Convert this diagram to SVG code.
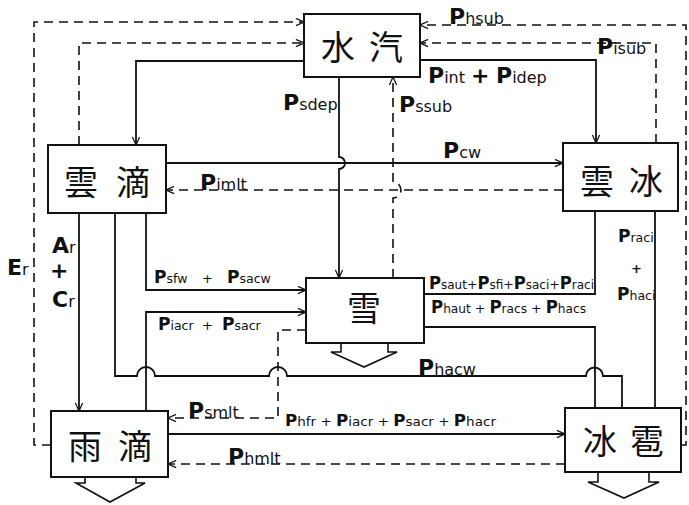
<svg xmlns="http://www.w3.org/2000/svg" width="689" height="505" viewBox="0 0 689 505">
<defs>
<marker id="ah" viewBox="0 0 10 10" refX="10" refY="5" markerWidth="9" markerHeight="9" markerUnits="userSpaceOnUse" orient="auto">
<path d="M1,1 L10,5 L1,9" fill="none" stroke="#111" stroke-width="1.4"/>
</marker>
<style>
.box{fill:#fff;stroke:#111;stroke-width:2}
.cjk{font-family:"Noto Sans CJK JP","Noto Sans CJK SC",sans-serif;font-size:34px;fill:#111;text-anchor:middle;dominant-baseline:central}
.ln{fill:none;stroke:#111;stroke-width:1.8}
.dl{fill:none;stroke:#111;stroke-width:1.6;stroke-dasharray:9 6}
.out{fill:none;stroke:#111;stroke-width:1.6;stroke-linejoin:miter}
.lb{font-family:"DejaVu Sans",sans-serif;fill:#111}
.P{font-size:22px;font-weight:bold}
.s{font-size:16px}
.Pm{font-size:17px;font-weight:bold}
.sm{font-size:12.5px}
.pm{font-size:13px}
.Ps{font-size:16px;font-weight:bold}
.ss{font-size:13px}
</style>
</defs>
<rect width="689" height="505" fill="#fff"/>

<g id="connectors">
<path class="ln" d="M304,61 H136 V145" marker-end="url(#ah)"/>
<path class="ln" d="M339,77 V157 A6,6 0 0 1 339,169 V278" marker-end="url(#ah)"/>
<path class="ln" d="M420,60 H596 V143" marker-end="url(#ah)"/>
<path class="ln" d="M166,163 H563" marker-end="url(#ah)"/>
<path class="ln" d="M79,213 V411" marker-end="url(#ah)"/>
<path class="ln" d="M115,213 V376 H137 A9,9 0 0 1 155,376 H269 A9,9 0 0 1 287,376 H586 A8.5,8.5 0 0 1 603,376 H622 V408"/>
<path class="ln" d="M146,213 V290 H306" marker-end="url(#ah)"/>
<path class="ln" d="M146,411 V312 H306" marker-end="url(#ah)"/>
<path class="ln" d="M595,211 V294 H424"/>
<path class="ln" d="M424,327 H595 V408"/>
<path class="ln" d="M655,211 V408"/>
<path class="ln" d="M168,434 H565" marker-end="url(#ah)"/>
<path class="dl" d="M51,445 H34 V22 H304" marker-end="url(#ah)"/>
<path class="dl" d="M79,145 V43 H304" marker-end="url(#ah)"/>
<path class="dl" d="M681,445 H686 V25 H420" marker-end="url(#ah)"/>
<path class="dl" d="M656,143 V43 H420" marker-end="url(#ah)"/>
<path class="dl" d="M393,278 V198 A8,8 0 0 0 393,182 V77" marker-end="url(#ah)"/>
<path class="dl" d="M563,190 H166" marker-end="url(#ah)"/>
<path class="dl" d="M306,330 H278 V418 H168" marker-end="url(#ah)"/>
<path class="dl" d="M565,464 H168" marker-end="url(#ah)"/>
<path class="out" d="M341,343 V352 H331 L364,367 L397,352 H388 V343"/>
<path class="out" d="M85,477 V483 H76 L110,502 L145,483 H136 V477"/>
<path class="out" d="M598,472 V482 H588 L624,498 L659,482 H649 V472"/>
</g>

<g id="node-vapor">
<rect class="box" x="304" y="14" width="116" height="63"/>
<text class="cjk" x="338 386" y="45">水汽</text>
</g>
<g id="node-cloudwater">
<rect class="box" x="48" y="145" width="118" height="68"/>
<text class="cjk" x="81 133" y="180">雲滴</text>
</g>
<g id="node-cloudice">
<rect class="box" x="563" y="143" width="115" height="68"/>
<text class="cjk" x="597 646" y="179">雲冰</text>
</g>
<g id="node-snow">
<rect class="box" x="306" y="278" width="118" height="65"/>
<text class="cjk" x="364" y="306">雪</text>
</g>
<g id="node-rain">
<rect class="box" x="51" y="411" width="117" height="66"/>
<text class="cjk" x="85 135" y="444">雨滴</text>
</g>
<g id="node-hail">
<rect class="box" x="565" y="408" width="116" height="64"/>
<text class="cjk" x="600 647" y="439">冰雹</text>
</g>

<g id="labels">
<text class="lb" x="449" y="24"><tspan class="P">P</tspan><tspan class="s">hsub</tspan></text>
<text class="lb" x="597" y="54"><tspan class="P">P</tspan><tspan class="s">isub</tspan></text>
<text class="lb" y="83"><tspan class="P" x="428">P</tspan><tspan class="s">int</tspan><tspan class="P" x="471">+</tspan><tspan class="P" x="496">P</tspan><tspan class="s">idep</tspan></text>
<text class="lb" x="283" y="110"><tspan class="P">P</tspan><tspan class="s">sdep</tspan></text>
<text class="lb" x="399" y="112"><tspan class="P">P</tspan><tspan class="s">ssub</tspan></text>
<text class="lb" x="443" y="158"><tspan class="P">P</tspan><tspan class="s">cw</tspan></text>
<text class="lb" x="200" y="190"><tspan class="P">P</tspan><tspan class="s">imlt</tspan></text>
<text class="lb" y="283"><tspan class="Pm" x="154">P</tspan><tspan class="sm">sfw</tspan><tspan class="pm" x="202">+</tspan><tspan class="Pm" x="227">P</tspan><tspan class="sm">sacw</tspan></text>
<text class="lb" y="330"><tspan class="Pm" x="158">P</tspan><tspan class="sm">iacr</tspan><tspan class="pm" x="202">+</tspan><tspan class="Pm" x="222">P</tspan><tspan class="sm">sacr</tspan></text>
<text class="lb" x="429" y="289" textLength="165" lengthAdjust="spacingAndGlyphs"><tspan class="Pm">P</tspan><tspan class="sm">saut</tspan><tspan class="pm">+</tspan><tspan class="Pm">P</tspan><tspan class="sm">sfi</tspan><tspan class="pm">+</tspan><tspan class="Pm">P</tspan><tspan class="sm">saci</tspan><tspan class="pm">+</tspan><tspan class="Pm">P</tspan><tspan class="sm">raci</tspan></text>
<text class="lb" x="431" y="313" textLength="155" lengthAdjust="spacingAndGlyphs"><tspan class="Pm">P</tspan><tspan class="sm">haut</tspan><tspan class="pm"> + </tspan><tspan class="Pm">P</tspan><tspan class="sm">racs</tspan><tspan class="pm"> + </tspan><tspan class="Pm">P</tspan><tspan class="sm">hacs</tspan></text>
<text class="lb" y="300"><tspan class="Pm" x="617">P</tspan><tspan class="sm">haci</tspan></text>
<text class="lb" x="618" y="242"><tspan class="Pm">P</tspan><tspan class="sm">raci</tspan></text>
<text class="lb pm" x="631" y="273" font-weight="bold">+</text>
<text class="lb" x="418" y="375"><tspan class="P">P</tspan><tspan class="s">hacw</tspan></text>
<text class="lb" x="188" y="418"><tspan class="P">P</tspan><tspan class="s">smlt</tspan></text>
<text class="lb" x="285" y="426" textLength="211" lengthAdjust="spacingAndGlyphs"><tspan class="Ps">P</tspan><tspan class="ss">hfr + </tspan><tspan class="Ps">P</tspan><tspan class="ss">iacr + </tspan><tspan class="Ps">P</tspan><tspan class="ss">sacr + </tspan><tspan class="Ps">P</tspan><tspan class="ss">hacr</tspan></text>
<text class="lb" x="228" y="464"><tspan class="P">P</tspan><tspan class="s">hmlt</tspan></text>
<text class="lb" x="52" y="253"><tspan class="P">A</tspan><tspan class="s">r</tspan></text>
<text class="lb P" x="50" y="278">+</text>
<text class="lb" x="52" y="307"><tspan class="P">C</tspan><tspan class="s">r</tspan></text>
<text class="lb" x="7" y="275"><tspan class="P">E</tspan><tspan class="s">r</tspan></text>
</g>
</svg>
